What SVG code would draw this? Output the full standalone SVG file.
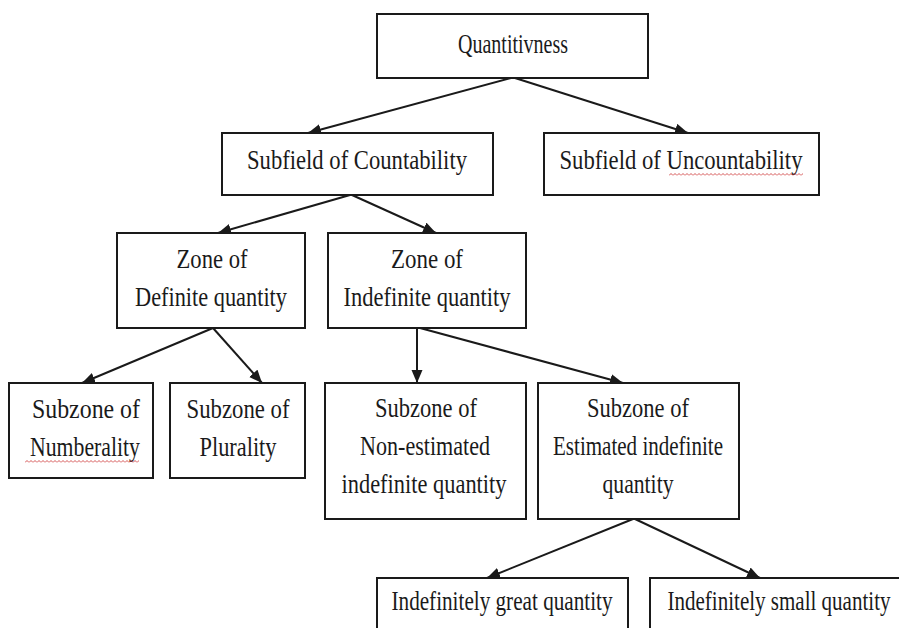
<svg xmlns="http://www.w3.org/2000/svg" width="899" height="628" viewBox="0 0 899 628">
<style>
.box{fill:#fff;stroke:#1a1a1a;stroke-width:2}
.t{font-family:"Liberation Serif","Times New Roman",serif;font-size:27px;fill:#1a1a1a;text-anchor:middle}
.c{stroke:#1a1a1a;stroke-width:2;fill:none;marker-end:url(#ah)}
</style>
<defs>
<marker id="ah" markerUnits="userSpaceOnUse" markerWidth="14" markerHeight="12" refX="13" refY="5.5" orient="auto">
<path d="M0,0 L13,5.5 L0,11 z" fill="#1a1a1a"/>
</marker>
<pattern id="sq" width="4" height="3" patternUnits="userSpaceOnUse">
<path d="M0,2.5 L2,0.5 L4,2.5" fill="none" stroke="#d04040" stroke-width="0.9"/>
</pattern>
</defs>
<rect width="899" height="628" fill="#fff"/>
<g id="connectors">
<line class="c" x1="511" y1="78" x2="308" y2="133"/>
<line class="c" x1="515" y1="78" x2="688" y2="133"/>
<line class="c" x1="350" y1="195" x2="218" y2="233"/>
<line class="c" x1="352" y1="195" x2="436" y2="233"/>
<line class="c" x1="213" y1="328" x2="82" y2="383"/>
<line class="c" x1="213" y1="328" x2="262" y2="383"/>
<line class="c" x1="417" y1="328" x2="417" y2="383"/>
<line class="c" x1="420" y1="328" x2="623" y2="383"/>
<line class="c" x1="633" y1="519" x2="487" y2="578"/>
<line class="c" x1="635" y1="519" x2="760" y2="578"/>
</g>
<g id="n-quantitivness">
<rect class="box" x="377" y="14" width="271" height="64"/>
<text class="t" x="513" y="53" textLength="110" lengthAdjust="spacingAndGlyphs">Quantitivness</text>
</g>
<g id="n-countability">
<rect class="box" x="222" y="133" width="271" height="62"/>
<text class="t" x="357" y="169" textLength="220" lengthAdjust="spacingAndGlyphs">Subfield of Countability</text>
</g>
<g id="n-uncountability">
<rect class="box" x="544" y="133" width="275" height="62"/>
<text class="t" x="681" y="169" textLength="243" lengthAdjust="spacingAndGlyphs">Subfield of Uncountability</text>
<rect transform="translate(669,173)" width="134" height="3" fill="url(#sq)"/>
</g>
<g id="n-definite">
<rect class="box" x="117" y="233" width="188" height="95"/>
<text class="t" x="212" y="268" textLength="71" lengthAdjust="spacingAndGlyphs">Zone of</text>
<text class="t" x="211" y="306" textLength="152" lengthAdjust="spacingAndGlyphs">Definite quantity</text>
</g>
<g id="n-indefinite">
<rect class="box" x="328" y="233" width="198" height="95"/>
<text class="t" x="427" y="268" textLength="72" lengthAdjust="spacingAndGlyphs">Zone of</text>
<text class="t" x="427" y="306" textLength="167" lengthAdjust="spacingAndGlyphs">Indefinite quantity</text>
</g>
<g id="n-numberality">
<rect class="box" x="9" y="383" width="144" height="95"/>
<text class="t" x="86" y="418" textLength="108" lengthAdjust="spacingAndGlyphs">Subzone of</text>
<text class="t" x="85" y="456" textLength="110" lengthAdjust="spacingAndGlyphs">Numberality</text>
<rect transform="translate(25,460)" width="114" height="3" fill="url(#sq)"/>
</g>
<g id="n-plurality">
<rect class="box" x="170" y="383" width="135" height="95"/>
<text class="t" x="238" y="418" textLength="103" lengthAdjust="spacingAndGlyphs">Subzone of</text>
<text class="t" x="238" y="456" textLength="77" lengthAdjust="spacingAndGlyphs">Plurality</text>
</g>
<g id="n-nonestimated">
<rect class="box" x="325" y="383" width="201" height="136"/>
<text class="t" x="426" y="417" textLength="102" lengthAdjust="spacingAndGlyphs">Subzone of</text>
<text class="t" x="425" y="455" textLength="130" lengthAdjust="spacingAndGlyphs">Non-estimated</text>
<text class="t" x="424" y="493" textLength="165" lengthAdjust="spacingAndGlyphs">indefinite quantity</text>
</g>
<g id="n-estimated">
<rect class="box" x="538" y="383" width="201" height="136"/>
<text class="t" x="638" y="417" textLength="102" lengthAdjust="spacingAndGlyphs">Subzone of</text>
<text class="t" x="638" y="455" textLength="170" lengthAdjust="spacingAndGlyphs">Estimated indefinite</text>
<text class="t" x="638" y="493" textLength="71" lengthAdjust="spacingAndGlyphs">quantity</text>
</g>
<g id="n-great">
<rect class="box" x="377" y="578" width="251" height="70"/>
<text class="t" x="502" y="610" textLength="221" lengthAdjust="spacingAndGlyphs">Indefinitely great quantity</text>
</g>
<g id="n-small">
<rect class="box" x="650" y="578" width="260" height="70"/>
<text class="t" x="779" y="610" textLength="223" lengthAdjust="spacingAndGlyphs">Indefinitely small quantity</text>
</g>
</svg>
